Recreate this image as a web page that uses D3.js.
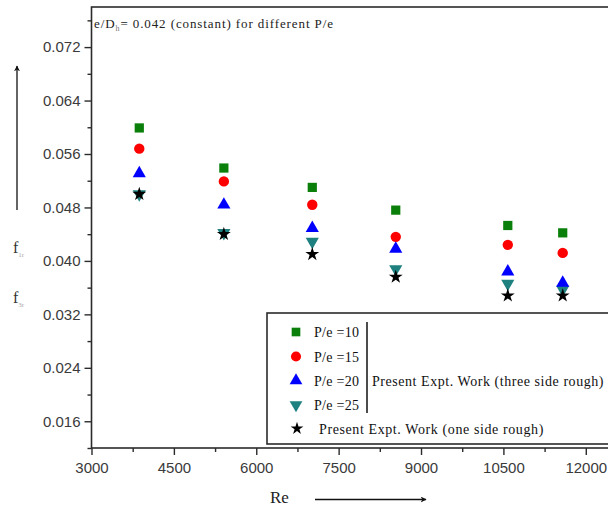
<!DOCTYPE html>
<html>
<head>
<meta charset="utf-8">
<script src="https://cdn.jsdelivr.net/npm/d3@7"></script>
<style>
  body { margin: 0; background: #fff; }
  svg { display: block; }
</style>
</head>
<body>
<div id="chart"></div>
<script>
var svgWidth = 608;
var svgHeight = 508;

// data
var reValues = [3870, 5410, 7020, 8540, 10580, 11580];
var pe10 = [0.0599, 0.0539, 0.0510, 0.0476, 0.0453, 0.0442];
var pe15 = [0.0568, 0.0519, 0.0484, 0.0436, 0.0424, 0.0412];
var pe20 = [0.0531, 0.0484, 0.0449, 0.0418, 0.0384, 0.0367];
var pe25 = [0.0500, 0.0442, 0.0429, 0.0388, 0.0366, 0.0357];
var oneSide = [0.0500, 0.0440, 0.0410, 0.0376, 0.0348, 0.0348];

var seriesNames = ["P/e =10", "P/e =15", "P/e =20", "P/e =25", "Present Expt. Work (one side rough)"];
var xTicks = [3000, 4500, 6000, 7500, 9000, 10500, 12000];
var yTicks = [0.016, 0.024, 0.032, 0.040, 0.048, 0.056, 0.064, 0.072];

var margin = { top: 7, left: 91.5, bottom: 60 };
var plotBottom = 448;

var svg = d3.select("#chart")
  .append("svg")
  .attr("width", svgWidth)
  .attr("height", svgHeight);

var x = d3.scaleLinear().domain([3000, 12600]).range([margin.left, margin.left + 9600 * 82.38 / 1500]);
var y = d3.scaleLinear().domain([0.012, 0.078]).range([plotBottom, margin.top]);

// frame
svg.append("rect")
  .attr("x", x(3000))
  .attr("y", y(0.078))
  .attr("width", x(12600) - x(3000))
  .attr("height", y(0.012) - y(0.078))
  .attr("fill", "none")
  .attr("stroke", "#2b2b2b")
  .attr("stroke-width", 1.6);

// minor ticks
var yMinor = d3.range(0.012, 0.0781, 0.008);
var xMinor = d3.range(3750, 12600, 1500);

var yMinorAxis = svg.append("g")
  .attr("transform", "translate(" + x(3000) + ",0)")
  .call(d3.axisLeft(y).tickValues(yMinor).tickSize(4).tickFormat(""));
var xMinorAxis = svg.append("g")
  .attr("transform", "translate(0," + plotBottom + ")")
  .call(d3.axisBottom(x).tickValues(xMinor).tickSize(4).tickFormat(""));

var yAxis = svg.append("g")
  .attr("transform", "translate(" + x(3000) + ",0)")
  .call(d3.axisLeft(y).tickValues(yTicks).tickSize(7).tickPadding(4).tickFormat(d3.format(".3f")));
var xAxis = svg.append("g")
  .attr("transform", "translate(0," + plotBottom + ")")
  .call(d3.axisBottom(x).tickValues(xTicks).tickSize(7).tickPadding(7).tickFormat(d3.format("d")));

[yMinorAxis, xMinorAxis, yAxis, xAxis].forEach(function(g) {
  g.select(".domain").remove();
  g.selectAll("line").attr("stroke", "#2b2b2b").attr("stroke-width", 1.4);
  g.selectAll("text")
    .attr("fill", "#3a3a3a")
    .style("font-family", "'Liberation Sans', Arial, sans-serif")
    .style("font-size", "15px");
});

// points
var series = [
  { values: pe25, symbol: d3.symbolTriangle, size: 75, color: "#1f8080", rotate: 180 },
  { values: pe10, symbol: d3.symbolSquare, size: 85, color: "#0a800a", rotate: 0 },
  { values: pe15, symbol: d3.symbolCircle, size: 85, color: "#ff0000", rotate: 0 },
  { values: pe20, symbol: d3.symbolTriangle, size: 75, color: "#0000ff", rotate: 0 },
  { values: oneSide, symbol: d3.symbolStar, size: 60, color: "#000000", rotate: 0 }
];

series.forEach(function(s) {
  svg.append("g").selectAll("path")
    .data(s.values)
    .enter()
    .append("path")
    .attr("d", d3.symbol().type(s.symbol).size(s.size))
    .attr("transform", function(d, i) {
      return "translate(" + x(reValues[i]) + "," + y(d) + ") rotate(" + s.rotate + ")";
    })
    .attr("fill", s.color);
});

// annotation at top
var note = svg.append("text")
  .attr("x", 94)
  .attr("y", 28)
  .attr("fill", "#222")
  .style("font-family", "'Liberation Serif', 'Times New Roman', serif")
  .style("font-size", "13px")
  .style("letter-spacing", "0.9px");
note.append("tspan").text("e/D");
note.append("tspan").attr("dy", 3).style("font-size", "8px").attr("fill", "#777").text("h");
note.append("tspan").attr("dy", -3).text("= 0.042 (constant) for different P/e");

// legend
var legend = svg.append("g");
legend.append("rect")
  .attr("x", 267)
  .attr("y", 313)
  .attr("width", 360)
  .attr("height", 131)
  .attr("fill", "#fff")
  .attr("stroke", "#2b2b2b")
  .attr("stroke-width", 1.6);

var legendRows = [
  { name: seriesNames[0], symbol: d3.symbolSquare, size: 75, color: "#0a800a", rotate: 0, y: 332 },
  { name: seriesNames[1], symbol: d3.symbolCircle, size: 80, color: "#ff0000", rotate: 0, y: 356.5 },
  { name: seriesNames[2], symbol: d3.symbolTriangle, size: 70, color: "#0000ff", rotate: 0, y: 380.5 },
  { name: seriesNames[3], symbol: d3.symbolTriangle, size: 70, color: "#1f8080", rotate: 180, y: 405 },
  { name: seriesNames[4], symbol: d3.symbolStar, size: 50, color: "#000000", rotate: 0, y: 428.5 }
];

legendRows.forEach(function(r, i) {
  legend.append("path")
    .attr("d", d3.symbol().type(r.symbol).size(r.size))
    .attr("transform", "translate(" + (i == 4 ? 297 : 296) + "," + r.y + ") rotate(" + r.rotate + ")")
    .attr("fill", r.color);
  legend.append("text")
    .attr("x", i == 4 ? 319 : 314)
    .attr("y", r.y + 5)
    .attr("fill", "#111")
    .style("font-family", "'Liberation Serif', 'Times New Roman', serif")
    .style("font-size", "14px")
    .style("letter-spacing", i == 4 ? "0.6px" : "0.3px")
    .text(r.name);
});

legend.append("line")
  .attr("x1", 367).attr("x2", 367)
  .attr("y1", 322).attr("y2", 413)
  .attr("stroke", "#111")
  .attr("stroke-width", 1.5);
legend.append("text")
  .attr("x", 372)
  .attr("y", 385.5)
  .attr("fill", "#111")
  .style("font-family", "'Liberation Serif', 'Times New Roman', serif")
  .style("font-size", "14px")
  .style("letter-spacing", "0.55px")
  .text("Present Expt. Work (three side rough)");

// arrow heads
var defs = svg.append("defs");
defs.append("marker")
  .attr("id", "arrow")
  .attr("viewBox", "0 0 10 10")
  .attr("refX", 9)
  .attr("refY", 5)
  .attr("markerWidth", 6)
  .attr("markerHeight", 6)
  .attr("markerUnits", "userSpaceOnUse")
  .attr("orient", "auto")
  .append("path")
  .attr("d", "M0,0 L10,5 L0,10 L3,5 Z")
  .attr("fill", "#111");

// x axis title
svg.append("text")
  .attr("x", 270)
  .attr("y", 503)
  .attr("fill", "#222")
  .style("font-family", "'Liberation Serif', 'Times New Roman', serif")
  .style("font-size", "17px")
  .text("Re");
svg.append("line")
  .attr("x1", 315).attr("x2", 426)
  .attr("y1", 499.5).attr("y2", 499.5)
  .attr("stroke", "#111")
  .attr("stroke-width", 1.3)
  .attr("marker-end", "url(#arrow)");

// y axis title
svg.append("line")
  .attr("x1", 17).attr("x2", 17)
  .attr("y1", 210).attr("y2", 66)
  .attr("stroke", "#111")
  .attr("stroke-width", 1.3)
  .attr("marker-end", "url(#arrow)");

[{ y: 253, sub: "1r" }, { y: 303, sub: "3r" }].forEach(function(f) {
  var t = svg.append("text")
    .attr("x", 13)
    .attr("y", f.y)
    .attr("fill", "#333")
    .style("font-family", "'Liberation Serif', 'Times New Roman', serif")
    .style("font-size", "16px");
  t.append("tspan").text("f");
  t.append("tspan").attr("dy", 4).style("font-size", "7px").attr("fill", "#aaa").text(f.sub);
});
</script>
</body>
</html>
